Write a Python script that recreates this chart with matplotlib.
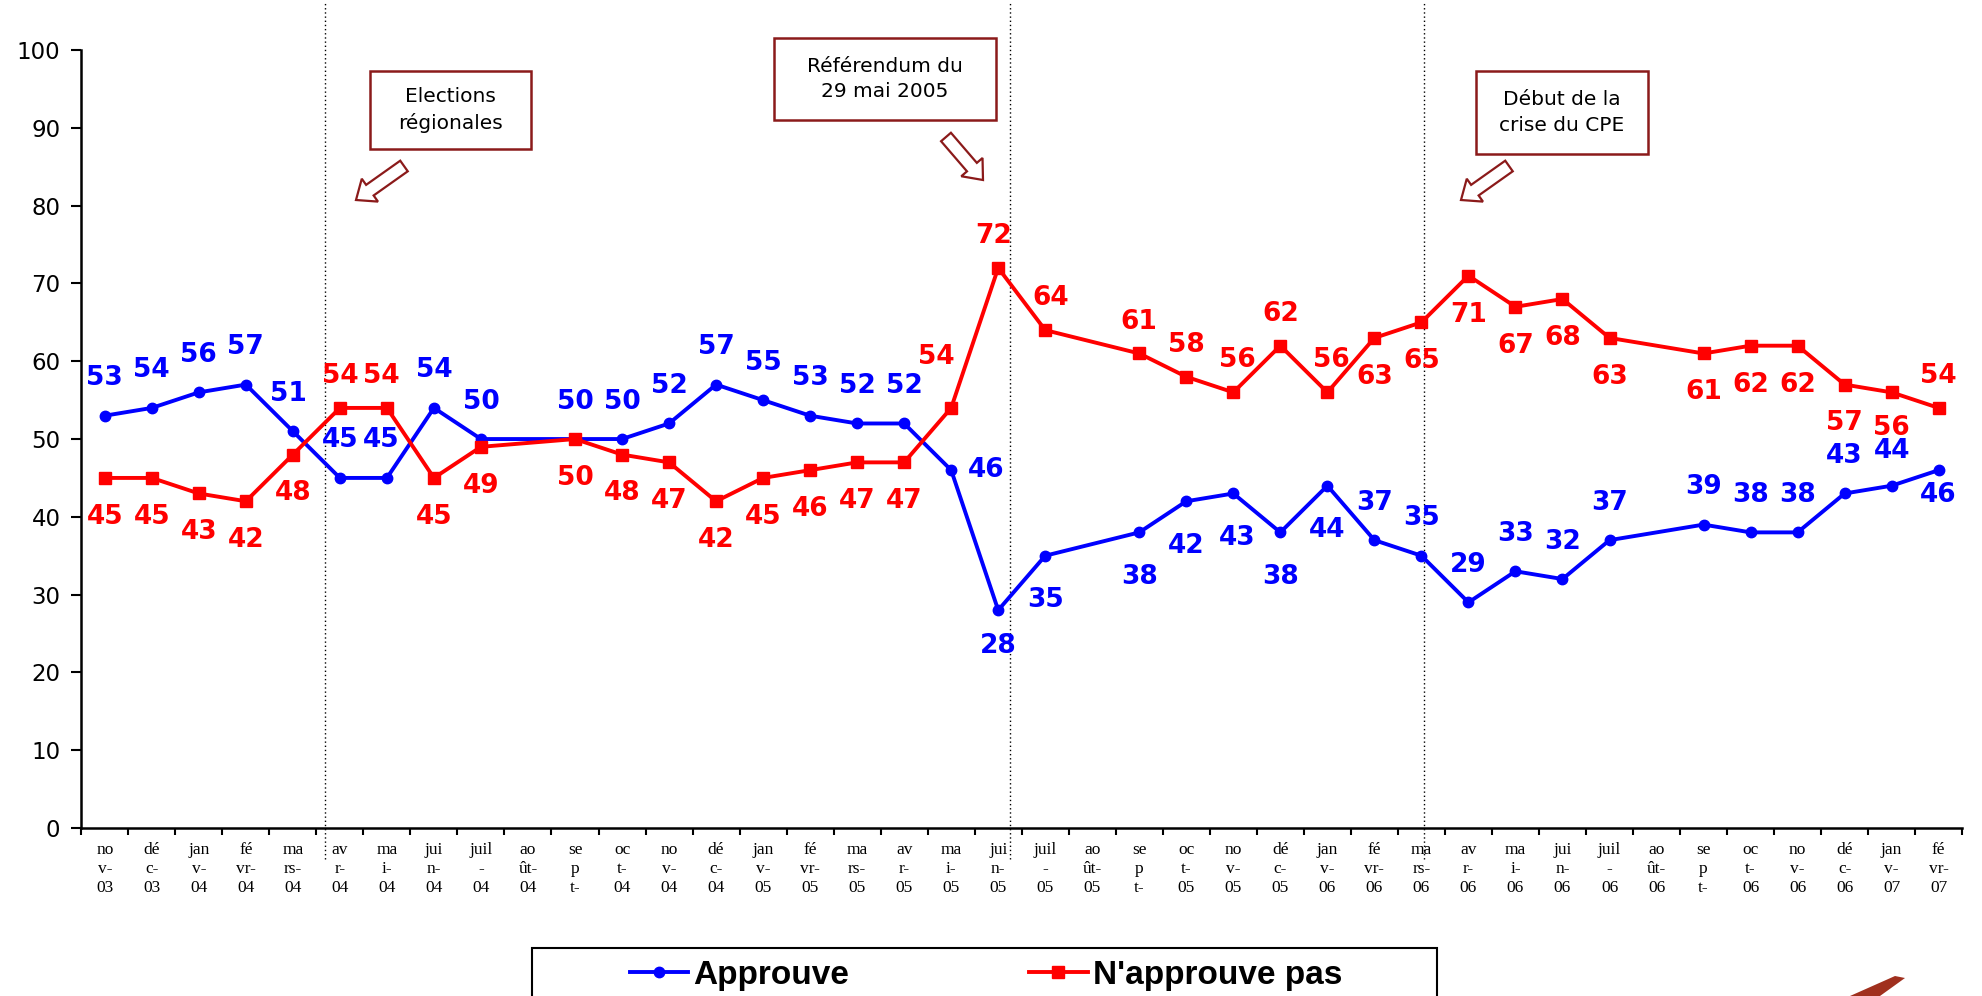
import numpy as np
import matplotlib.pyplot as plt
from matplotlib.patches import Rectangle, FancyArrow, Polygon
from matplotlib.transforms import IdentityTransform, blended_transform_factory

# months nov-03 .. fév-07 (Excel-style wrapped labels)
tick_labels = [
    "no\nv-\n03", "dé\nc-\n03",
    "jan\nv-\n04", "fé\nvr-\n04", "ma\nrs-\n04", "av\nr-\n04", "ma\ni-\n04", "jui\nn-\n04",
    "juil\n-\n04", "ao\nût-\n04", "se\np\nt-", "oc\nt-\n04", "no\nv-\n04", "dé\nc-\n04",
    "jan\nv-\n05", "fé\nvr-\n05", "ma\nrs-\n05", "av\nr-\n05", "ma\ni-\n05", "jui\nn-\n05",
    "juil\n-\n05", "ao\nût-\n05", "se\np\nt-", "oc\nt-\n05", "no\nv-\n05", "dé\nc-\n05",
    "jan\nv-\n06", "fé\nvr-\n06", "ma\nrs-\n06", "av\nr-\n06", "ma\ni-\n06", "jui\nn-\n06",
    "juil\n-\n06", "ao\nût-\n06", "se\np\nt-", "oc\nt-\n06", "no\nv-\n06", "dé\nc-\n06",
    "jan\nv-\n07", "fé\nvr-\n07",
]

approuve = [53, 54, 56, 57, 51, 45, 45, 54, 50, None, 50, 50, 52, 57, 55, 53, 52, 52, 46, 28,
            35, None, 38, 42, 43, 38, 44, 37, 35, 29, 33, 32, 37, None, 39, 38, 38, 43, 44, 46]
napprouve = [45, 45, 43, 42, 48, 54, 54, 45, 49, None, 50, 48, 47, 42, 45, 46, 47, 47, 54, 72,
             64, None, 61, 58, 56, 62, 56, 63, 65, 71, 67, 68, 63, None, 61, 62, 62, 57, 56, 54]

events = ["Elections\nrégionales", "Référendum du\n29 mai 2005", "Début de la\ncrise du CPE"]

# label placement: a = above, b = below, r = right
blue_pos = ['a'] * 18 + ['r', 'b', 'b', None] + ['b'] * 5 + ['a'] * 6 + [None] + ['a'] * 5 + ['b']
red_pos = ['b'] * 5 + ['a', 'a'] + ['b'] * 11 + ['a', 'a', 'a', None] + ['a'] * 5 + ['b'] * 6 + [None] + ['b'] * 5 + ['a']

BLUE = '#0000FF'
RED = '#FF0000'
DARKRED = '#8B1A1A'

fig = plt.figure(figsize=(19.82, 9.96), dpi=100)
ax = fig.add_axes([0.041, 0.1687, 0.949, 0.781])

x = np.arange(len(tick_labels))
a = np.array([np.nan if v is None else v for v in approuve], dtype=float)
r = np.array([np.nan if v is None else v for v in napprouve], dtype=float)
ma, mr = ~np.isnan(a), ~np.isnan(r)

l1, = ax.plot(x[ma], a[ma], color=BLUE, lw=2.8, marker='o', ms=7.5, zorder=3, label="Approuve")
l2, = ax.plot(x[mr], r[mr], color=RED, lw=2.8, marker='s', ms=8.5, zorder=3, label="N'approuve pas")

offs_blue = {'a': (0, 27), 'b': (0, -32), 'r': (25, 0)}
offs_red = {'a': (0, 23), 'b': (0, -28)}
tweak_blue = {4: (-3, 0), 6: (-4, 0), 19: (0, 6), 24: (3, 0), 38: (0, -2), 39: (0, 14)}
tweak_red = {6: (-4, 0), 18: (-11, 14), 19: (-3, 0), 20: (4, 0), 24: (3, 0), 26: (3, 0), 38: (0, 2)}

for vals, pos, offs, tw, col in [(a, blue_pos, offs_blue, tweak_blue, BLUE),
                                  (r, red_pos, offs_red, tweak_red, RED)]:
    for i, v in enumerate(vals):
        if np.isnan(v) or pos[i] is None:
            continue
        dx, dy = offs[pos[i]]
        tx, ty = tw.get(i, (0, 0))
        ax.annotate(f"{int(v)}", (i, v), xytext=(dx + tx, dy + ty), textcoords='offset points',
                    ha='center', va='center', color=col, fontsize=19, fontweight='bold',
                    family='DejaVu Sans', zorder=4)

ax.set_xlim(-0.45, 39.42)
ax.set_ylim(0, 100)
ax.set_yticks(np.arange(0, 101, 10))
ax.tick_params(axis='y', direction='out', length=7, width=1.5, labelsize=16.5, pad=8)
ax.set_xticks(x)
ax.set_xticklabels(tick_labels, family='Liberation Serif', fontsize=12.5, linespacing=1.25)
ax.set_xticks(np.arange(-0.5, 39.6, 1), minor=True)
ax.tick_params(axis='x', which='major', length=0, pad=10)
ax.tick_params(axis='x', which='minor', direction='out', length=5, width=1.5)
for s in ['top', 'right']:
    ax.spines[s].set_visible(False)
for s in ['left', 'bottom']:
    ax.spines[s].set_linewidth(1.8)

# dotted event lines
trans = blended_transform_factory(ax.transData, ax.transAxes)
for xv in [4.68, 19.25, 28.05]:
    ax.plot([xv, xv], [-0.04, 1.06], transform=trans, color='black', lw=1,
            ls=(0, (1, 2)), clip_on=False, zorder=1)

# event boxes (pixel coords from top-left of image)
H = 996
boxes = [(370, 71, 531, 149), (774, 38, 996, 120), (1476, 71, 1648, 154)]
for (x0, y0, x1, y1), txt in zip(boxes, events):
    fig.add_artist(Rectangle((x0 / 1982, 1 - y1 / H), (x1 - x0) / 1982, (y1 - y0) / H,
                             transform=fig.transFigure, fill=False, ec=DARKRED, lw=1.8))
    fig.text((x0 + x1) / 2 / 1982, 1 - (y0 + y1) / 2 / H, txt, ha='center', va='center',
             fontsize=14.5, family='DejaVu Sans', linespacing=1.45)

# hollow block arrows
arrows = [((404, 166), (356, 200)), ((946, 137), (983, 180)), ((1509, 166), (1461, 200))]
for (tx0, ty0), (hx, hy) in arrows:
    dx, dy = hx - tx0, -(hy - ty0)
    fig.add_artist(FancyArrow(tx0, H - ty0, dx, dy, width=13, head_width=28, head_length=17,
                              length_includes_head=True, transform=IdentityTransform(),
                              fc='white', ec=DARKRED, lw=1.6))

# legend with frame running off the bottom edge
fig.legend(handles=[l1, l2], loc='center', bbox_to_anchor=(0.4975, 0.021), ncol=2,
           frameon=False, prop={'family': 'Liberation Sans', 'weight': 'bold', 'size': 24},
           handlelength=1.75, handletextpad=0.15, columnspacing=5.4)
fig.add_artist(Rectangle((532 / 1982, -0.1), (1437 - 532) / 1982, 0.1 + 1 - 948 / H,
                         transform=fig.transFigure, fill=False, ec='black', lw=1.5))

# cut-off logo fragment bottom right
fig.add_artist(Polygon([(1850, 0), (1880, 0), (1905, 18), (1895, 20)], closed=True,
                       transform=IdentityTransform(), fc='#A0301E', ec='none'))

fig.savefig('out.png', dpi=100)
